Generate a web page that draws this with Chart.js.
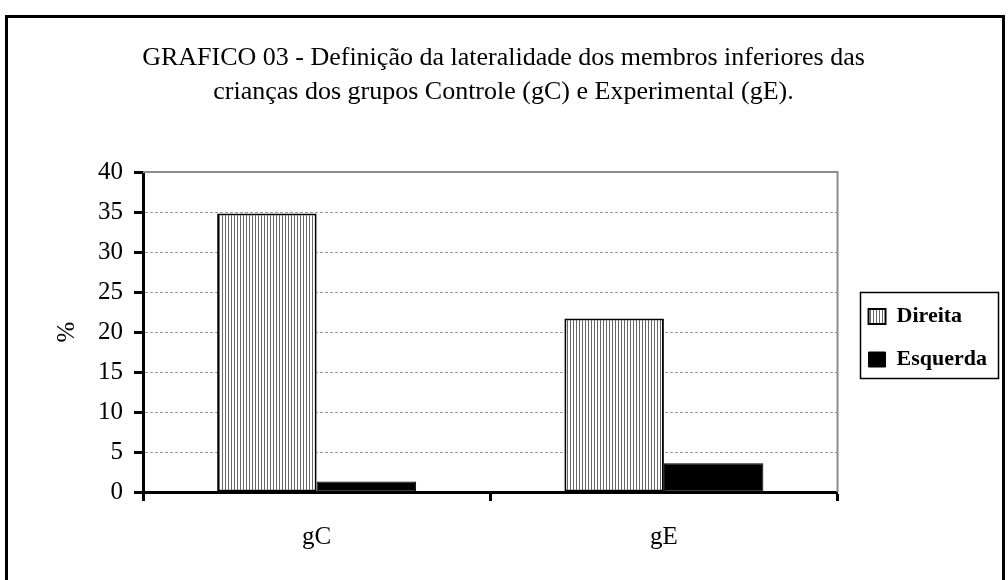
<!DOCTYPE html>
<html lang="pt">
<head>
    <meta charset="UTF-8">
    <title>GRAFICO 03</title>
    <script src="https://cdn.jsdelivr.net/npm/chart.js"></script>
    <style>
        body {
            margin: 0;
            background: #fff;
        }
        .wrap {
            width: 1008px;
            height: 580px;
        }
    </style>
</head>
<body>
    <div class="wrap">
        <canvas id="lateralChart"></canvas>
    </div>

    <script>
        // dados
        const categories = ['gC', 'gE'];
        const direitaValues = [34.8, 21.7];
        const esquerdaValues = [1.3, 3.6];
        const yTicks = [0, 5, 10, 15, 20, 25, 30, 35, 40];

        const serif = 'Liberation Serif, Times New Roman, serif';

        // hachura vertical para "Direita"
        function stripePattern() {
            const c = document.createElement('canvas');
            c.width = 3;
            c.height = 4;
            const g = c.getContext('2d');
            g.fillStyle = '#fff';
            g.fillRect(0, 0, 3, 4);
            g.fillStyle = '#666';
            g.fillRect(0, 0, 1, 4);
            return g.createPattern(c, 'repeat');
        }

        // moldura externa, bordas cinza da área e caixa da legenda
        const framePlugin = {
            id: 'framePlugin',
            afterLayout(chart) {
                // afasta a legenda da área do gráfico e desce um pouco
                chart.legend.left += 10;
                chart.legend.right += 10;
                chart.legend.top += 48;
                chart.legend.bottom += 48;
            },
            beforeDatasetsDraw(chart) {
                const { ctx, chartArea: a } = chart;
                ctx.save();
                ctx.strokeStyle = '#8c8c8c';
                ctx.lineWidth = 2;
                ctx.beginPath();
                ctx.moveTo(a.left, a.top);
                ctx.lineTo(a.right, a.top);
                ctx.lineTo(a.right, a.bottom);
                ctx.stroke();
                ctx.restore();
            },
            afterDraw(chart) {
                const ctx = chart.ctx;
                ctx.save();
                ctx.strokeStyle = '#000';
                ctx.lineWidth = 3;
                ctx.strokeRect(6.5, 16.5, 997, 620);

                const boxes = chart.legend.legendHitBoxes;
                if (boxes && boxes.length) {
                    const l = Math.min(...boxes.map(b => b.left)) - 9;
                    const r = Math.max(...boxes.map(b => b.left + b.width)) + 11;
                    const t = Math.min(...boxes.map(b => b.top)) - 14;
                    const btm = Math.max(...boxes.map(b => b.top + b.height)) + 7;
                    ctx.lineWidth = 1.5;
                    ctx.strokeRect(Math.round(l) + 0.5, Math.round(t) + 0.5, Math.round(r - l), Math.round(btm - t));
                }
                ctx.restore();
            }
        };

        const ctx = document.getElementById('lateralChart').getContext('2d');
        new Chart(ctx, {
            type: 'bar',
            data: {
                labels: categories,
                datasets: [{
                    label: 'Direita',
                    data: direitaValues,
                    backgroundColor: stripePattern(),
                    borderColor: '#000',
                    borderWidth: 2,
                    borderSkipped: false
                }, {
                    label: 'Esquerda',
                    data: esquerdaValues,
                    backgroundColor: '#000',
                    borderColor: '#000',
                    borderWidth: 1,
                    borderSkipped: false
                }]
            },
            options: {
                responsive: true,
                maintainAspectRatio: false,
                animation: false,
                datasets: {
                    bar: {
                        categoryPercentage: 0.573,
                        barPercentage: 1
                    }
                },
                layout: {
                    padding: {
                        top: 30,
                        left: 20,
                        right: 21,
                        bottom: 30
                    }
                },
                scales: {
                    y: {
                        min: 0,
                        max: 40,
                        afterBuildTicks: scale => {
                            scale.ticks = yTicks.map(v => ({ value: v }));
                        },
                        afterFit: scale => {
                            scale.width = 123;
                        },
                        ticks: {
                            color: '#000',
                            padding: 11,
                            font: { family: serif, size: 25 }
                        },
                        grid: {
                            color: '#9a9a9a',
                            lineWidth: 1,
                            tickColor: '#000',
                            tickLength: 9,
                            tickWidth: 3
                        },
                        border: {
                            color: '#000',
                            width: 3,
                            dash: [3, 2]
                        },
                        title: {
                            display: true,
                            text: '%',
                            color: '#000',
                            padding: { top: 32, bottom: 0 },
                            font: { family: serif, size: 25 }
                        }
                    },
                    x: {
                        afterFit: scale => {
                            scale.height = 58;
                        },
                        ticks: {
                            color: '#000',
                            padding: 21,
                            font: { family: serif, size: 25 }
                        },
                        grid: {
                            drawOnChartArea: false,
                            tickColor: '#000',
                            tickLength: 9,
                            tickWidth: 3
                        },
                        border: {
                            color: '#000',
                            width: 3
                        }
                    }
                },
                plugins: {
                    title: {
                        display: true,
                        text: [
                            'GRAFICO 03 - Definição da lateralidade dos membros inferiores das',
                            'crianças dos grupos Controle (gC) e Experimental (gE).'
                        ],
                        color: '#000',
                        font: { family: serif, size: 26, weight: 'normal', lineHeight: 1.31 },
                        padding: { top: 11, bottom: 62.9 }
                    },
                    legend: {
                        position: 'right',
                        labels: {
                            color: '#000',
                            boxWidth: 17,
                            boxHeight: 15,
                            padding: 21,
                            font: { family: serif, size: 22, weight: 'bold' }
                        }
                    },
                    tooltip: {
                        enabled: false
                    }
                }
            },
            plugins: [framePlugin]
        });
    </script>
</body>
</html>
